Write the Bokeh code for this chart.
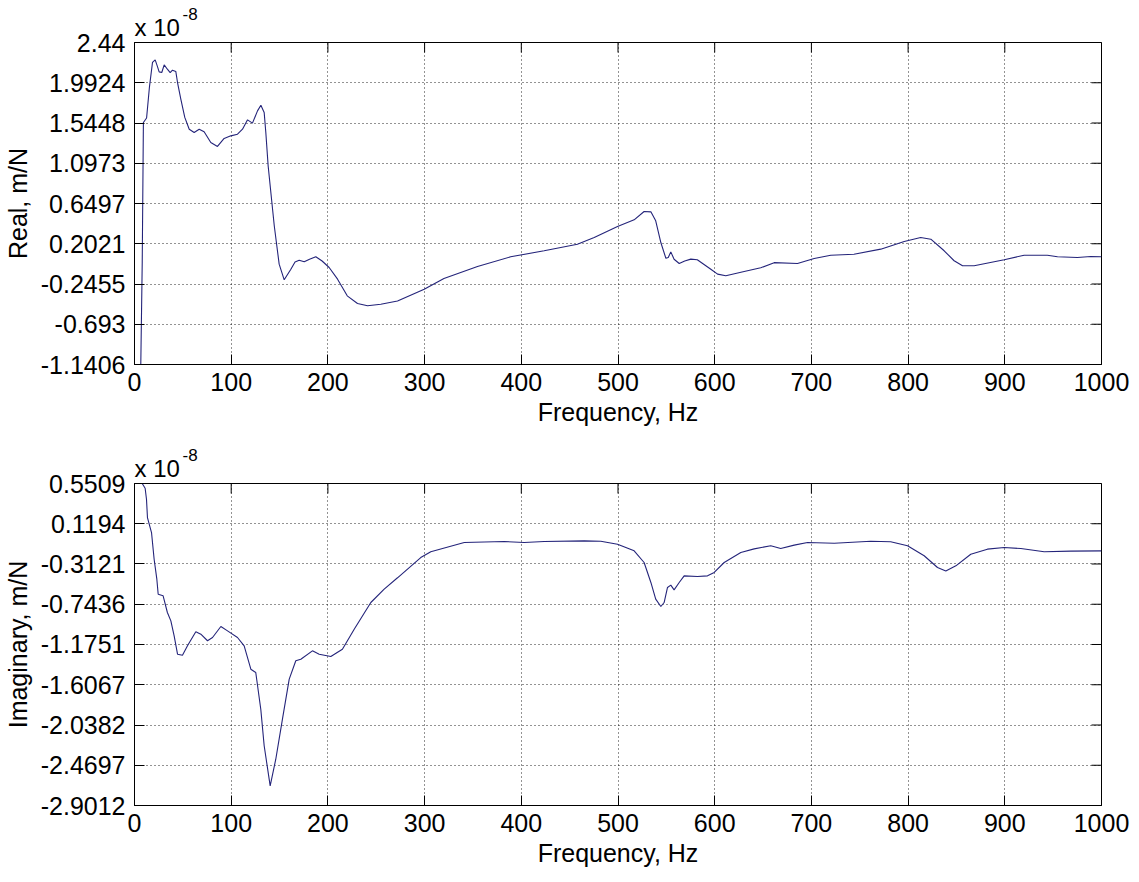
import math
from bokeh.plotting import figure
from bokeh.models import Range1d, FixedTicker, Title
from bokeh.layouts import column
from bokeh.embed import file_html
from bokeh.resources import INLINE

# ---------------- data (values in units of 1e-8 m/N) ----------------
real_freq = [6.5, 8.0, 9.2, 10.5, 12.5, 15.5, 18.6, 21.4, 23.5, 25.5, 28.2, 30.7, 34.0, 36.9,
             39.3, 42.7, 44.5, 47.9, 52.0, 56.6, 61.7, 66.9, 72.0, 78.9, 85.8, 92.7, 99.6,
             106.5, 111.7, 116.9, 122.0, 127.2, 130.7, 134.1, 135.8, 138.2, 140.3, 144.5,
             149.6, 154.8, 161.7, 166.0, 170.3, 175.5, 181.0, 187.5, 194.0, 201.3, 210.0,
             220.0, 230.6, 241.0, 254.7, 272.0, 299.6, 320.0, 354.7, 389.0, 423.6, 458.0,
             475.4, 499.5, 516.7, 527.0, 534.0, 539.0, 544.3, 549.5, 552.0, 554.6, 558.0,
             563.3, 569.0, 575.3, 582.0, 596.0, 603.0, 611.5, 630.5, 647.6, 661.5, 685.6,
             702.9, 720.0, 744.0, 771.7, 796.0, 813.0, 823.5, 837.3, 847.6, 856.3, 868.3,
             899.4, 920.0, 944.0, 954.5, 975.0, 989.0, 1000.0]
real_vals = [-1.1406, 0.0, 1.55, 1.57, 1.60, 1.95, 2.218, 2.247, 2.18, 2.113, 2.106, 2.192,
             2.143, 2.106, 2.132, 2.118, 1.995, 1.81, 1.607, 1.476, 1.44, 1.476, 1.447,
             1.328, 1.284, 1.373, 1.402, 1.42, 1.476, 1.58, 1.543, 1.68, 1.743, 1.661, 1.44,
             1.07, 0.847, 0.405, -0.025, -0.199, -0.081, 0.0, 0.019, 0.001, 0.03, 0.057,
             0.01, -0.062, -0.192, -0.377, -0.462, -0.488, -0.47, -0.435, -0.303, -0.184,
             -0.051, 0.057, 0.124, 0.197, 0.272, 0.394, 0.468, 0.561, 0.557, 0.457, 0.216,
             0.041, 0.05, 0.112, 0.03, -0.017, 0.01, 0.031, 0.024, -0.081, -0.136, -0.154,
             -0.106, -0.065, -0.008, -0.017, 0.038, 0.075, 0.086, 0.142, 0.228, 0.272, 0.253,
             0.124, 0.013, -0.043, -0.043, 0.024, 0.075, 0.075, 0.057, 0.049, 0.06, 0.057]

imag_freq = [8.0, 11.0, 12.4, 13.4, 17.6, 20.3, 23.1, 24.5, 29.6, 34.0, 37.6, 41.0, 44.5,
             49.6, 54.8, 63.4, 68.6, 75.5, 80.7, 89.3, 96.2, 106.5, 113.4, 120.3, 125.4,
             130.6, 134.1, 140.3, 146.1, 153.0, 160.0, 166.8, 172.0, 184.0, 191.0, 203.0,
             215.0, 227.2, 244.4, 258.2, 272.0, 296.0, 306.4, 341.0, 382.3, 403.0, 423.7,
             465.0, 482.2, 499.5, 516.7, 527.0, 534.0, 539.0, 544.3, 547.7, 551.2, 554.6,
             558.0, 563.3, 568.4, 582.2, 592.6, 599.5, 609.8, 627.0, 640.8, 658.0, 668.3,
             682.2, 696.0, 723.6, 761.4, 782.0, 799.4, 816.6, 830.4, 839.0, 849.4, 864.8,
             882.0, 899.4, 916.6, 940.7, 968.3, 1000.0]
imag_vals = [0.5509, 0.50, 0.382, 0.186, 0.025, -0.261, -0.475, -0.636, -0.653, -0.832,
             -0.922, -1.082, -1.279, -1.29, -1.189, -1.039, -1.065, -1.135, -1.10, -0.982,
             -1.029, -1.10, -1.19, -1.44, -1.475, -1.869, -2.261, -2.69, -2.405, -1.976,
             -1.547, -1.35, -1.333, -1.243, -1.279, -1.304, -1.226, -1.011, -0.725, -0.582,
             -0.46, -0.243, -0.181, -0.082, -0.071, -0.082, -0.071, -0.064, -0.068, -0.10,
             -0.171, -0.296, -0.51, -0.689, -0.768, -0.725, -0.564, -0.539, -0.589, -0.51,
             -0.439, -0.446, -0.439, -0.403, -0.296, -0.189, -0.15, -0.117, -0.146, -0.11,
             -0.082, -0.089, -0.068, -0.074, -0.117, -0.224, -0.35, -0.386, -0.332, -0.207,
             -0.153, -0.135, -0.146, -0.181, -0.174, -0.171]

x_ticks = [0, 100, 200, 300, 400, 500, 600, 700, 800, 900, 1000]
real_tick_labels = ["-1.1406", "-0.693", "-0.2455", "0.2021", "0.6497", "1.0973", "1.5448",
                    "1.9924", "2.44"]
imag_tick_labels = ["-2.9012", "-2.4697", "-2.0382", "-1.6067", "-1.1751", "-0.7436",
                    "-0.3121", "0.1194", "0.5509"]
exp_base = "x 10"
exp_power = "-8"

FONT = "Liberation Sans"
FS = "25px"
LINE_COLOR = "#24247a"


def make_panel(xs, ys, tick_labels, ylabel, top_border, bottom_border):
    tvals = [float(t) for t in tick_labels]
    p = figure(frame_width=967, frame_height=322,
               x_range=Range1d(0, 1000), y_range=Range1d(tvals[0], tvals[-1]),
               output_backend="svg", toolbar_location=None,
               min_border_left=129, min_border_right=35,
               min_border_top=top_border, min_border_bottom=bottom_border,
               background_fill_color="white", border_fill_color="white")
    p.outline_line_color = "black"
    p.outline_line_width = 1

    p.xaxis.ticker = FixedTicker(ticks=x_ticks)
    p.yaxis.ticker = FixedTicker(ticks=tvals)
    p.yaxis.major_label_overrides = {v: s for v, s in zip(tvals, tick_labels)}
    p.xaxis.axis_label = "Frequency, Hz"
    p.yaxis.axis_label = ylabel
    for ax in (p.xaxis[0], p.yaxis[0]):
        ax.major_tick_in = 10
        ax.major_tick_out = 0
        ax.minor_tick_in = 0
        ax.minor_tick_out = 0
        ax.axis_line_color = "black"
        ax.major_tick_line_color = "black"
        ax.major_label_text_font = FONT
        ax.major_label_text_font_size = FS
        ax.major_label_text_color = "black"
        ax.axis_label_text_font = FONT
        ax.axis_label_text_font_size = FS
        ax.axis_label_text_font_style = "normal"
        ax.axis_label_text_color = "black"
    p.xaxis.major_label_standoff = 8
    p.xaxis.axis_label_standoff = 4
    p.yaxis.major_label_standoff = 9
    p.yaxis.axis_label_standoff = 6

    p.grid.grid_line_color = "black"
    p.grid.grid_line_dash = "1 3"
    p.grid.grid_line_width = 1
    p.grid.grid_line_alpha = 0.85
    p.xgrid.ticker = FixedTicker(ticks=x_ticks)
    p.ygrid.ticker = FixedTicker(ticks=tvals)

    # mirrored ticks on top and right edges (half of each dash is clipped by the frame)
    p.scatter(x=x_ticks, y=[tvals[-1]] * len(x_ticks), marker="dash", size=20,
              angle=math.pi / 2, line_color="black", line_width=1)
    p.scatter(x=[x_ticks[-1]] * len(tvals), y=tvals, marker="dash", size=20,
              angle=0, line_color="black", line_width=1)

    p.line(xs, ys, line_color=LINE_COLOR, line_width=1.1)

    # "x 10^-8" multiplier: outer title holds the exponent, inner title the base
    p.title = Title(text=exp_power, align="left", offset=48, standoff=-20,
                    text_font=FONT, text_font_size="17px",
                    text_font_style="normal", text_color="black")
    p.add_layout(Title(text=exp_base, align="left", offset=0, standoff=4,
                       text_font=FONT, text_font_size="24px",
                       text_font_style="normal", text_color="black"), "above")
    return p


p1 = make_panel(real_freq, real_vals, real_tick_labels, "Real, m/N", 42, 77)
p2 = make_panel(imag_freq, imag_vals, imag_tick_labels, "Imaginary, m/N", 42, 60)

layout = column(p1, p2, spacing=0)
open("out.html", "w").write(file_html(layout, INLINE))
